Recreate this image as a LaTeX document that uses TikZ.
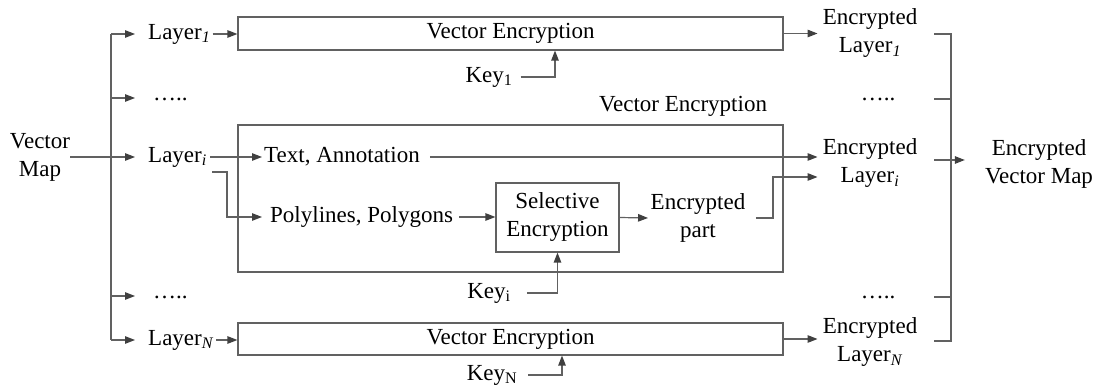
\documentclass[tikz,border=0pt]{standalone}
\usepackage{fontspec}
\setmainfont{Liberation Serif}
\usetikzlibrary{arrows.meta}
\begin{document}
\begin{tikzpicture}[x=1pt,y=-1pt,
  every node/.style={font=\fontsize{23}{28}\selectfont, inner sep=0pt, align=center, text=black},
  ln/.style={draw=black!62, line width=1.2pt},
  arr/.style={ln, -{Triangle[length=10pt,width=7.5pt,color=black!75]}},
  box/.style={draw=black!62, line width=1.2pt, inner sep=0pt}]
\useasboundingbox (0,0) rectangle (1093,387);

% left text nodes
\node (vm) at (40,157) {Vector\\Map};
\node[anchor=west] (L1) at (148,34) {Layer\textsubscript{\textit{1}}};
\node[anchor=west] (Li) at (148,157) {Layer\textsubscript{\textit{i}}};
\node[anchor=west] (LN) at (148,340) {Layer\textsubscript{\textit{N}}};
\node[anchor=base west] (d1) at (153,101) {…..};
\node[anchor=base west] (d2) at (153,299) {…..};

% boxes
\node[box, minimum width=545pt, minimum height=33pt] (b1) at (510.5,33.5) {Vector Encryption};
\node[box, minimum width=545pt, minimum height=147pt] (bi) at (510.5,198.5) {};
\node (lbl) at (683,106) {Vector Encryption};
\node[box, minimum width=545pt, minimum height=32pt] (bN) at (510.5,339) {Vector Encryption};
\node[box, minimum width=123pt, minimum height=69pt] (sel) at (557.5,217.5) {Selective\\Encryption};

\node[anchor=west] (TA) at (264,157) {Text, Annotation};
\node[anchor=west] (PP) at (270,217) {Polylines, Polygons};
\node[inner xsep=2.5pt] (EP) at (698,218) {Encrypted\\part};

% keys
\node (k1) at (489,77) {Key\textsubscript{1}};
\node (ki) at (489,293) {Key\textsubscript{i}};
\node (kN) at (492,375) {Key\textsubscript{N}};

% right side
\node[inner xsep=5pt] (E1) at (870,33) {Encrypted\\Layer\textsubscript{\textit{1}}};
\node[inner xsep=5pt] (Ei) at (870,163) {Encrypted\\Layer\textsubscript{\textit{i}}};
\node[inner xsep=5pt] (EN) at (870,342) {Encrypted\\Layer\textsubscript{\textit{N}}};
\node[anchor=base] (rd1) at (878,101) {…..};
\node[anchor=base] (rd2) at (878,299) {…..};
\node[inner xsep=20pt] (EVM) at (1039,164) {Encrypted\\Vector Map};

% trunk on the left
\coordinate (t1) at (111,34);
\coordinate (t2) at (111,98);
\coordinate (t4) at (111,296);
\coordinate (tN) at (111,340);
\coordinate (a2) at (135,98);
\coordinate (a4) at (135,296);
\draw[ln] (t1) -- (tN);
\draw[arr] (t1) -- ([xshift=-13pt]L1.west);
\draw[arr] (t2) -- (a2);
\draw[arr] (vm.east) -- ([xshift=-13pt]Li.west);
\draw[arr] (t4) -- (a4);
\draw[arr] (tN) -- ([xshift=-13pt]LN.west);

% into boxes
\draw[arr] ([xshift=2pt]L1.east) -- (L1.east -| b1.west);
\draw[arr] ([xshift=2pt]LN.east) -- (LN.east -| bN.west);
\draw[arr] ([xshift=3pt]Li.east) -- ([xshift=-2pt]TA.west);
\draw[arr] ([xshift=5pt,yshift=-15pt]Li.east) -- ++(15,0) |- ([xshift=-8pt]PP.west);
\draw[arr] ([xshift=10pt]TA.east) -- (TA.east -| Ei.west);
\draw[arr] ([xshift=6pt]PP.east) -- (PP.east -| sel.west);
\draw[arr] (sel.east) -- (EP.west);
\draw[arr] ([xshift=8pt]EP.east) -- ++(17,0) |- ([yshift=-14pt]Ei.west);

% keys
\draw[arr] ([xshift=8pt]k1.east) -| ([xshift=44.5pt]b1.south);
\draw[arr] ([xshift=16pt]ki.east) -| (sel.south);
\draw[arr] ([xshift=11pt]kN.east) -| ([xshift=51.5pt]bN.south);

% outputs
\draw[arr] (b1.east) -- (b1.east -| E1.west);
\draw[arr] (bN.east) -- (bN.east -| EN.west);

% bracket on the right
\coordinate (r1) at (934,34);
\coordinate (r2) at (934,99);
\coordinate (ri) at (934,160);
\coordinate (r4) at (934,297);
\coordinate (rN) at (934,341);
\coordinate (v1) at (951,34);
\coordinate (vN) at (951,341);
\draw[ln] (r1) -- (v1) -- (vN) -- (rN);
\draw[ln] (r2) -- (r2 -| v1);
\draw[ln] (r4) -- (r4 -| v1);
\draw[arr] (ri) -- (ri -| EVM.west);
\end{tikzpicture}
\end{document}
